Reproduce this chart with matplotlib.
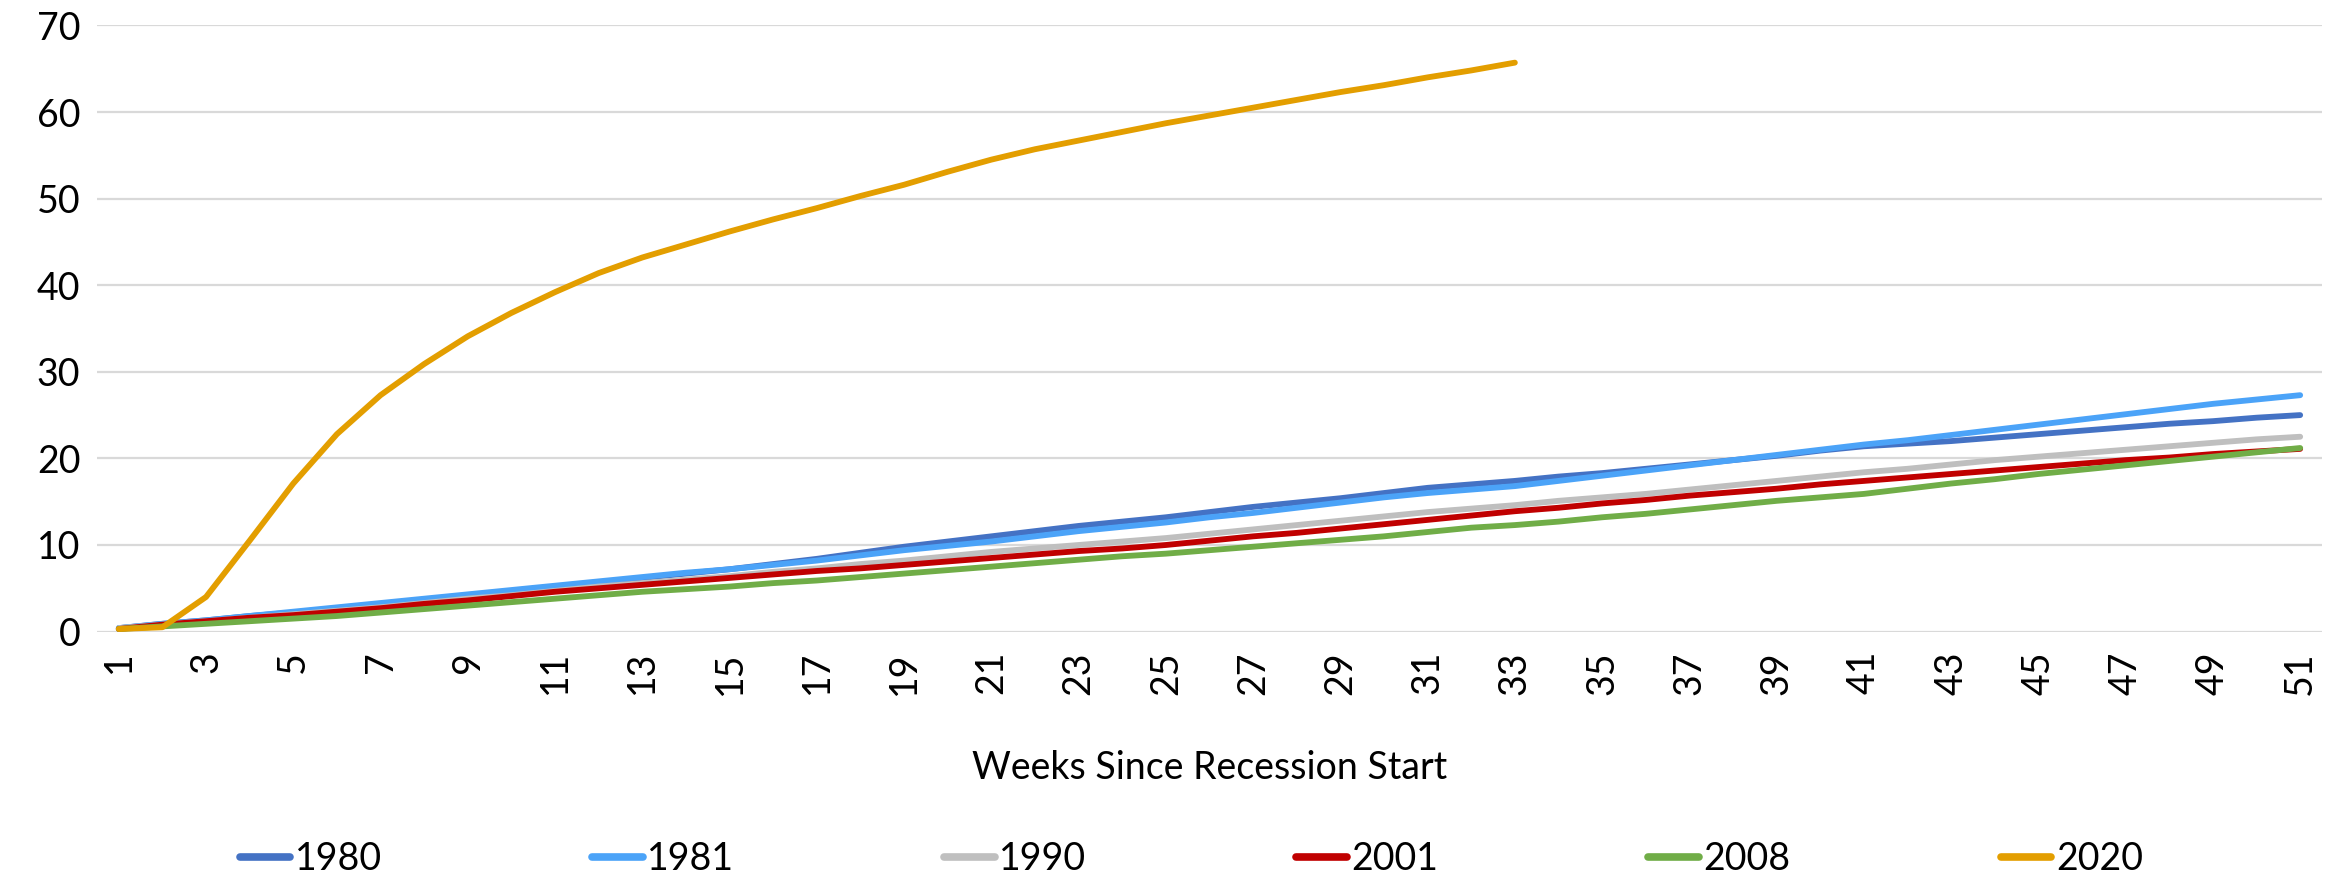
import matplotlib
matplotlib.use("Agg")
import matplotlib.pyplot as plt

weeks = list(range(1, 52))

y1980 = [0.4, 0.9, 1.3, 1.8, 2.2, 2.7, 3.2, 3.7, 4.2, 4.7, 5.2, 5.7, 6.2, 6.7, 7.2,
         7.8, 8.4, 9.1, 9.8, 10.4, 11.0, 11.6, 12.2, 12.7, 13.2, 13.8, 14.4, 14.9,
         15.4, 16.0, 16.6, 17.0, 17.4, 17.9, 18.3, 18.8, 19.3, 19.8, 20.3, 20.9,
         21.4, 21.7, 22.0, 22.4, 22.8, 23.2, 23.6, 24.0, 24.3, 24.7, 25.0]
y1981 = [0.4, 0.9, 1.3, 1.8, 2.3, 2.8, 3.3, 3.8, 4.3, 4.8, 5.3, 5.8, 6.3, 6.8, 7.2,
         7.7, 8.2, 8.8, 9.4, 9.9, 10.4, 11.0, 11.6, 12.1, 12.6, 13.2, 13.7, 14.3,
         14.9, 15.5, 16.0, 16.4, 16.8, 17.4, 18.0, 18.6, 19.2, 19.8, 20.4, 21.0,
         21.6, 22.1, 22.7, 23.3, 23.9, 24.5, 25.1, 25.7, 26.3, 26.8, 27.3]
y1990 = [0.4, 0.8, 1.2, 1.6, 2.0, 2.4, 2.8, 3.3, 3.8, 4.2, 4.7, 5.2, 5.6, 6.0, 6.4,
         6.9, 7.3, 7.8, 8.2, 8.7, 9.2, 9.6, 10.0, 10.4, 10.8, 11.3, 11.8, 12.3,
         12.8, 13.3, 13.8, 14.2, 14.6, 15.1, 15.5, 15.9, 16.4, 16.9, 17.4, 17.9,
         18.4, 18.8, 19.3, 19.8, 20.2, 20.6, 21.0, 21.4, 21.8, 22.2, 22.5]
y2001 = [0.3, 0.8, 1.2, 1.6, 1.9, 2.3, 2.7, 3.2, 3.6, 4.1, 4.6, 5.0, 5.4, 5.8, 6.2,
         6.6, 7.0, 7.3, 7.7, 8.1, 8.5, 8.9, 9.3, 9.6, 10.0, 10.5, 11.0, 11.4,
         11.9, 12.4, 12.9, 13.4, 13.9, 14.3, 14.8, 15.2, 15.7, 16.1, 16.5, 17.0,
         17.4, 17.8, 18.2, 18.6, 19.0, 19.4, 19.8, 20.1, 20.5, 20.8, 21.1]
y2008 = [0.3, 0.6, 0.9, 1.2, 1.5, 1.8, 2.2, 2.6, 3.0, 3.4, 3.8, 4.2, 4.6, 4.9, 5.2,
         5.6, 5.9, 6.3, 6.7, 7.1, 7.5, 7.9, 8.3, 8.7, 9.0, 9.4, 9.8, 10.2, 10.6,
         11.0, 11.5, 12.0, 12.3, 12.7, 13.2, 13.6, 14.1, 14.6, 15.1, 15.5, 15.9,
         16.5, 17.1, 17.6, 18.2, 18.7, 19.2, 19.7, 20.2, 20.7, 21.2]
y2020 = [0.3, 0.5, 4.0, 10.5, 17.1, 22.8, 27.3, 30.9, 34.1, 36.8, 39.2, 41.4, 43.2,
         44.7, 46.2, 47.6, 48.9, 50.3, 51.6, 53.1, 54.5, 55.7, 56.7, 57.7, 58.7,
         59.6, 60.5, 61.4, 62.3, 63.1, 64.0, 64.8, 65.7]

series = [
    ("1980", y1980, "#4472C4"),
    ("1981", y1981, "#4BA3F8"),
    ("1990", y1990, "#BFBFBF"),
    ("2001", y2001, "#C00000"),
    ("2008", y2008, "#70AD47"),
    ("2020", y2020, "#E39E00"),
]

plt.rcParams["font.family"] = ["Lato", "DejaVu Sans"]
fs = 27

fig = plt.figure(figsize=(23.36, 8.76), dpi=100)
ax = fig.add_axes([0.0415, 0.279, 0.9525, 0.692])

for name, vals, col in series:
    ax.plot(weeks[:len(vals)], vals, color=col, lw=4.2, label=name,
            solid_capstyle="round")

ax.set_xlim(0.5, 51.5)
ax.set_ylim(0, 70)
ax.set_yticks(range(0, 71, 10))
ax.set_xticks(weeks[::2])
ax.set_xticklabels([str(w) for w in weeks[::2]], rotation=90)
ax.grid(axis="y", color="#D9D9D9", lw=1.6)
ax.set_axisbelow(True)
for s in ax.spines.values():
    s.set_visible(False)
ax.tick_params(axis="both", length=0, labelsize=fs)
ax.tick_params(axis="x", pad=14)
ax.tick_params(axis="y", pad=12)

ax.set_xlabel("Weeks Since Recession Start", fontsize=fs, labelpad=40)

leg = fig.legend(loc="lower center", ncol=6, bbox_to_anchor=(0.51, -0.04),
                 frameon=False, fontsize=fs, handlelength=1.35,
                 handletextpad=0.12, columnspacing=5.6)
for h in leg.get_lines():
    h.set_linewidth(5.5)
    h.set_solid_capstyle("round")

fig.savefig("out.png", dpi=100)
